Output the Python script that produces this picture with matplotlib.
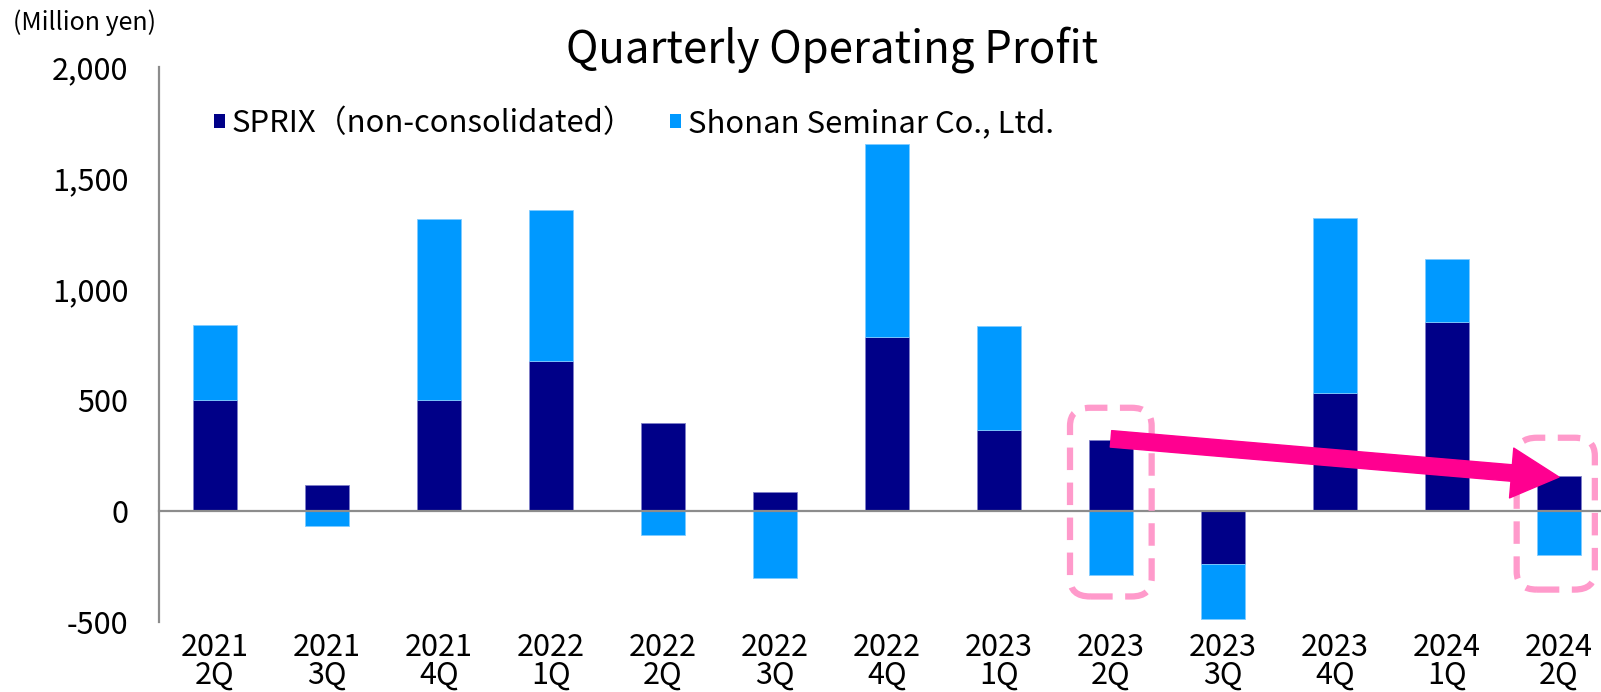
import matplotlib
matplotlib.use("Agg")
import matplotlib.pyplot as plt
from matplotlib.patches import Patch, FancyBboxPatch, FancyArrowPatch
import numpy as np

plt.rcParams['font.family'] = ['Noto Sans CJK JP', 'DejaVu Sans']

quarters = ["2021\n2Q", "2021\n3Q", "2021\n4Q", "2022\n1Q", "2022\n2Q", "2022\n3Q", "2022\n4Q",
            "2023\n1Q", "2023\n2Q", "2023\n3Q", "2023\n4Q", "2024\n1Q", "2024\n2Q"]
sprix = [500, 115, 500, 674, 396, 87, 782, 363, 318, -237, 530, 853, 158]
shonan = [339, -66, 815, 682, -107, -300, 869, 472, -290, -251, 788, 284, -199]
series_names = ["SPRIX（non-consolidated）", "Shonan Seminar Co., Ltd."]
yticks = [-500, 0, 500, 1000, 1500, 2000]

C_SPRIX = "#000088"
C_SHONAN = "#0099FF"
PINK_BOX = "#FF9ACB"
PINK_ARROW = "#FF0090"

W, H = 1601, 692
fig = plt.figure(figsize=(W / 100, H / 100), dpi=100)
ax = fig.add_axes([159 / W, (H - 622) / H, 13 * 112 / W, (622 - 67) / H])

x = np.arange(len(quarters))
sp = np.array(sprix, dtype=float)
sh = np.array(shonan, dtype=float)
bottom_sh = np.where(np.sign(sh) == np.sign(sp), sp, 0)

ax.bar(x, sp, width=0.4, color=C_SPRIX, edgecolor="#8080C8", linewidth=0.6, zorder=2)
ax.bar(x, sh, bottom=bottom_sh, width=0.4, color=C_SHONAN, edgecolor="#80CCFF", linewidth=0.6, zorder=2)

ax.set_xlim(-0.5, 12.5)
ax.set_ylim(-500, 2000)
ax.set_yticks(yticks)
ax.set_yticklabels([f"{v:,}" for v in yticks])
ax.set_xticks(x)
ax.set_xticklabels(quarters, linespacing=0.86)
ax.tick_params(axis="y", length=0, pad=22, labelsize=22)
ax.tick_params(axis="x", length=0, pad=7.5, labelsize=22)

for s in ["top", "right", "bottom"]:
    ax.spines[s].set_visible(False)
ax.spines["left"].set_color("#8C8C8C")
ax.spines["left"].set_linewidth(1.6)
ax.axhline(0, color="#8C8C8C", linewidth=1.6, zorder=3, clip_on=False)

# highlight boxes
for i, (y0, y1, dx0, dx1) in zip([8, 12], [(-385, 465, -0.366, 0.363), (-354, 330, -0.378, 0.32)]):
    box = FancyBboxPatch((i + dx0, y0), dx1 - dx0, y1 - y0,
                         boxstyle="round,pad=0,rounding_size=0.18",
                         mutation_aspect=450,
                         fill=False, edgecolor=PINK_BOX, linewidth=4.5,
                         linestyle=(0, (3.6, 2.0)), zorder=4, clip_on=False)
    ax.add_patch(box)

arrow = FancyArrowPatch((8, sprix[8] + 7), (12, sprix[12] - 5),
                        arrowstyle="simple,head_length=1.9,head_width=2.0,tail_width=0.66",
                        mutation_scale=18, color=PINK_ARROW, zorder=5, shrinkA=0, shrinkB=0,
                        capstyle="round")
ax.add_patch(arrow)

fig.text(832 / W, 1 - 50 / H, "Quarterly Operating Profit", ha="center", va="center", fontsize=31.5)
fig.text(13 / W, 1 - 23 / H, "(Million yen)", ha="left", va="center", fontsize=18)

handles = [Patch(facecolor=C_SPRIX, edgecolor="none"), Patch(facecolor=C_SHONAN, edgecolor="none")]
fig.legend(handles, series_names, loc="center left", bbox_to_anchor=(214 / W, 1 - 123.5 / H),
           ncol=2, frameon=False, fontsize=22.3, handlelength=0.35, handleheight=0.35,
           handletextpad=0.22, columnspacing=1.15, borderpad=0, borderaxespad=0)

fig.savefig("out.png", dpi=100)
